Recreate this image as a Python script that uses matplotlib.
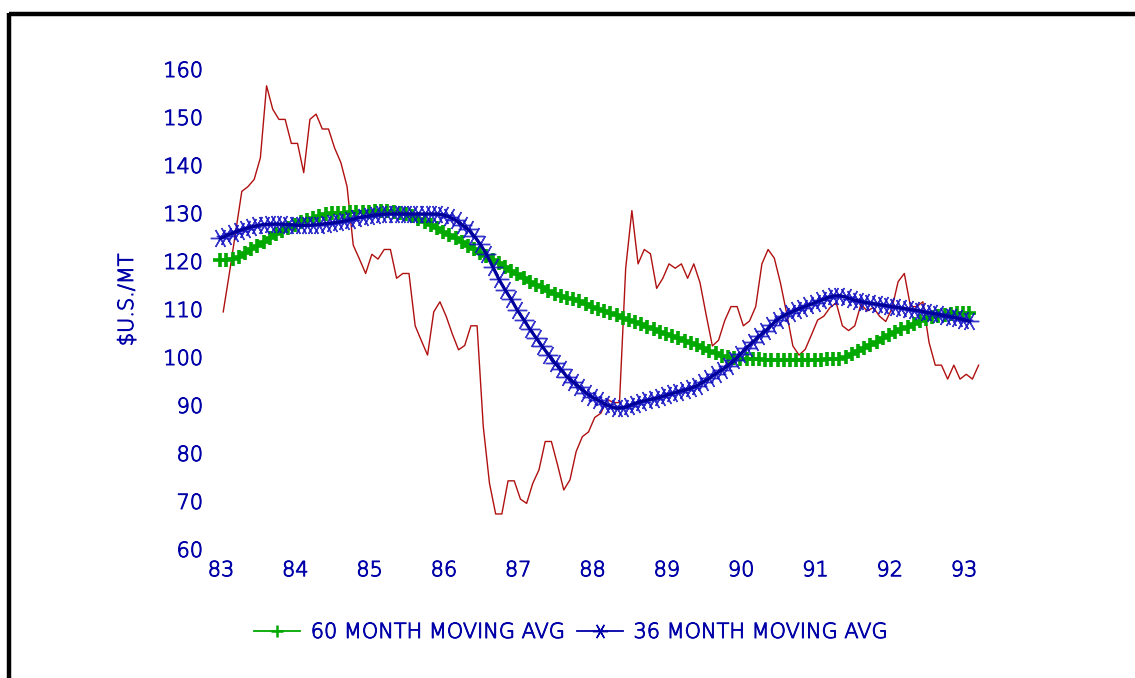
import matplotlib
matplotlib.use("Agg")
import matplotlib.pyplot as plt
from matplotlib.lines import Line2D
import matplotlib.patheffects as pe
import numpy as np

# ---- data ----
price = [109.4, 117.5, 126.0, 134.5, 135.5, 137.0, 141.5, 156.5, 151.6, 149.5,
         149.5, 144.5, 144.5, 138.4, 149.5, 150.6, 147.5, 147.5, 143.5, 140.5,
         135.5, 123.3, 120.4, 117.4, 121.4, 120.4, 122.4, 122.4, 116.4, 117.4,
         117.4, 106.5, 103.4, 100.4, 109.4, 111.5, 108.5, 104.8, 101.5, 102.4,
         106.5, 106.5, 85.5, 73.7, 67.3, 67.3, 74.2, 74.2, 70.4, 69.5,
         73.7, 76.5, 82.4, 82.4, 77.5, 72.3, 74.4, 80.3, 83.4, 84.4,
         87.4, 88.3, 91.2, 90.5, 90.5, 118.5, 130.5, 119.4, 122.4, 121.5,
         114.3, 116.4, 119.4, 118.5, 119.4, 116.4, 119.4, 115.5, 108.75, 102.3,
         103.5, 107.6, 110.5, 110.5, 106.5, 107.5, 110.5, 119.4, 122.4, 120.6,
         115.4, 109.1, 102.3, 100.4, 101.6, 104.6, 107.7, 108.5, 110.3, 111.3,
         106.5, 105.5, 106.5, 111.0, 109.6, 110.3, 108.5, 107.4, 110.1, 115.7,
         117.4, 110.5, 110.5, 111.5, 103.0, 98.3, 98.3, 95.4, 98.3, 95.4,
         96.4, 95.4, 98.3]

ma60 = [120.2, 120.3, 120.5, 120.9, 121.6, 122.4, 123.2, 124.0, 124.8, 125.6,
        126.3, 126.9, 127.5, 128.1, 128.6, 129.0, 129.4, 129.7, 129.9, 130.0,
        130.1, 130.2, 130.2, 130.3, 130.3, 130.4, 130.4, 130.4, 130.3, 130.1,
        129.8, 129.3, 128.7, 128.1, 127.5, 126.8, 126.1, 125.4, 124.7, 124.0,
        123.2, 122.5, 121.7, 121.0, 120.2, 119.5, 118.7, 118.0, 117.2, 116.4,
        115.7, 115.1, 114.5, 113.8, 113.2, 112.7, 112.3, 112.0, 111.6, 111.1,
        110.5, 110.0, 109.6, 109.1, 108.7, 108.2, 107.7, 107.2, 106.8, 106.3,
        105.8, 105.3, 104.8, 104.4, 103.9, 103.4, 102.9, 102.4, 101.8, 101.3,
        100.8, 100.3, 99.9, 99.7, 99.6, 99.5, 99.5, 99.5, 99.4, 99.4,
        99.4, 99.4, 99.4, 99.4, 99.4, 99.4, 99.4, 99.4, 99.5, 99.5,
        99.6, 100.0, 100.6, 101.2, 101.9, 102.5, 103.2, 103.9, 104.5, 105.2,
        105.8, 106.3, 106.8, 107.4, 107.9, 108.3, 108.6, 108.8, 109.0, 109.1,
        109.1, 109.1]

ma36 = [124.7, 125.3, 125.8, 126.3, 126.7, 127.1, 127.4, 127.6, 127.7, 127.7,
        127.7, 127.6, 127.5, 127.4, 127.4, 127.5, 127.6, 127.8, 127.9, 128.1,
        128.3, 128.6, 128.9, 129.2, 129.4, 129.6, 129.7, 129.8, 129.8, 129.8,
        129.8, 129.8, 129.8, 129.8, 129.8, 129.8, 129.6, 129.2, 128.5, 127.6,
        126.6, 125.2, 123.5, 121.4, 118.8, 116.2, 114.0, 112.0, 109.7, 107.8,
        105.8, 104.0, 102.2, 100.5, 98.8, 97.4, 95.9, 94.8, 93.7, 92.6,
        91.7, 91.0, 90.3, 89.7, 89.3, 89.4, 89.8, 90.3, 90.7, 91.0,
        91.3, 91.6, 92.0, 92.4, 92.8, 93.1, 93.5, 94.0, 94.8, 95.6,
        96.5, 97.3, 98.2, 99.3, 100.6, 101.9, 103.1, 104.3, 105.4, 106.6,
        107.8, 108.6, 109.2, 109.8, 110.3, 110.8, 111.3, 111.8, 112.3, 112.7,
        112.8, 112.5, 112.0, 111.7, 111.4, 111.2, 111.0, 110.8, 110.6, 110.4,
        110.2, 110.0, 109.8, 109.6, 109.3, 109.1, 108.9, 108.6, 108.4, 108.1,
        107.8, 107.4]

x_ticks = [83, 84, 85, 86, 87, 88, 89, 90, 91, 92, 93]
x_labels = ["83", "84", "85", "86", "87", "88", "89", "90", "91", "92", "93"]
y_ticks = [60, 70, 80, 90, 100, 110, 120, 130, 140, 150, 160]
legend_labels = ["60 MONTH MOVING AVG", "36 MONTH MOVING AVG"]
y_title = "$U.S./MT"

# month positions (years since 1900)
t_price = 83.03 + np.arange(len(price)) / 12.0
t_ma = 82.99 + np.arange(len(ma60)) / 12.0

BLUE = "#0000a8"
NAVY = "#00009a"
MBLUE = "#1414c4"
GREEN = "#00a800"
RED = "#b01010"
plt.rcParams["font.family"] = "DejaVu Sans"
plt.rcParams["font.weight"] = "light"
THICK = [pe.withStroke(linewidth=0.7, foreground=BLUE)]

W, H = 1135, 678
fig = plt.figure(figsize=(W / 100, H / 100), dpi=100)
fig.patch.set_facecolor("white")

# axes placement in pixels
left_px, right_px, top_px, bot_px = 210, 1000, 50, 556
ax = fig.add_axes([left_px / W, (H - bot_px) / H, (right_px - left_px) / W, (bot_px - top_px) / H])
x0 = 83 + (left_px - 221) / 74.3
x1 = 83 + (right_px - 221) / 74.3
y0 = 60 - (bot_px - 549) / 4.8
y1 = 60 + (549 - top_px) / 4.8
ax.set_xlim(x0, x1)
ax.set_ylim(y0, y1)
for s in ax.spines.values():
    s.set_visible(False)
ax.set_facecolor("none")

ax.plot(t_price, price, color=RED, lw=1.0, zorder=2)
ax.plot(t_ma, ma60, color=GREEN, lw=2.0, marker="+", ms=10, mew=2.6, zorder=3)
ax.plot(t_ma, ma36, color=MBLUE, lw=0, marker=(6, 2, 90), ms=14, mew=1.0,
        alpha=0.85, zorder=4)
ax.plot(t_ma, ma36, color=NAVY, lw=2.3, zorder=5)

ax.set_xticks(x_ticks)
ax.set_xticklabels(x_labels)
ax.set_yticks(y_ticks)
ax.set_yticklabels([str(v) for v in y_ticks])
ax.tick_params(axis="both", length=0, colors=BLUE, labelsize=15)
ax.tick_params(axis="y", pad=5)
ax.tick_params(axis="x", pad=3)
for lab in ax.get_xticklabels() + ax.get_yticklabels():
    lab.set_path_effects(THICK)

yt = fig.text(127 / W, 1 - 300 / H, y_title, rotation=90, color=BLUE, fontsize=15,
              ha="center", va="center", parse_math=False)
yt.set_path_effects(THICK)

h60 = Line2D([], [], color=GREEN, lw=1.3, marker="+", ms=9, mew=1.8)
h36 = Line2D([], [], color=BLUE, lw=1.3, marker=(6, 2, 90), ms=11, mew=1.0)
leg = fig.legend([h60, h36], legend_labels, loc="center",
                 bbox_to_anchor=(571 / W, 1 - 632 / H), ncol=2,
                 frameon=False, fontsize=15, handlelength=2.2, handletextpad=0.5,
                 columnspacing=0.6, numpoints=1, labelcolor=BLUE)
for txt in leg.get_texts():
    txt.set_path_effects(THICK)

# heavy black frame on top and left
fig.add_artist(Line2D([9 / W, 1.0], [1 - 14 / H, 1 - 14 / H], color="black", lw=3.2,
                      solid_capstyle="butt"))
fig.add_artist(Line2D([9 / W, 9 / W], [0.0, 1 - 12.5 / H], color="black", lw=3.2,
                      solid_capstyle="butt"))

fig.savefig("out.png", dpi=100, facecolor="white")
